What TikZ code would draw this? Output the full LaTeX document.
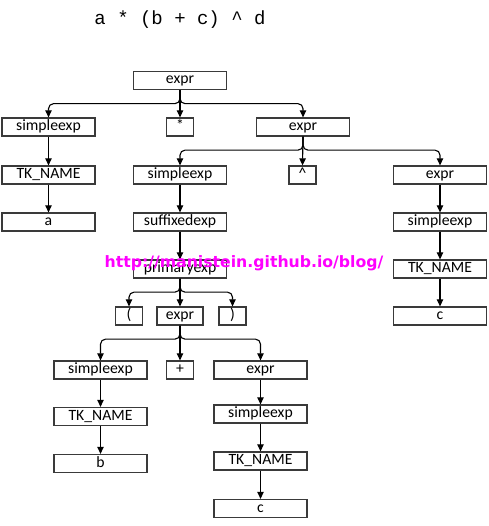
\documentclass[tikz,border=0pt]{standalone}
\usepackage{fontspec}
\setmainfont{Carlito}
\newfontfamily\titlefont{Liberation Mono}
\newfontfamily\markfont{DejaVu Sans}
\usetikzlibrary{arrows.meta,positioning}
\definecolor{fbox}{HTML}{3A3A3A}
\definecolor{fmark}{HTML}{FF00FF}
\tikzset{
  block/.style = {draw=fbox, line width=1.3pt, rectangle, minimum height=18pt,
                  minimum width=93pt, inner sep=0pt, align=center,
                  text height=10.5pt, text depth=3.5pt,
                  font=\fontsize{15.7}{18}\selectfont},
  tok/.style   = {block, minimum width=27pt},
  mid/.style   = {block, minimum width=46pt},
  sig/.style   = {-{Triangle[length=7pt,width=6.5pt]}, line width=1.1pt,
                  rounded corners=5pt},
}
\begin{document}
\begin{tikzpicture}[x=1pt,y=-1pt]
\useasboundingbox (0,0) rectangle (488,526);
\node[font=\titlefont\fontsize{19}{22}\selectfont] (title) at (180,20)
  {a * (b + c) \textasciicircum{} d};
% level by level, pixel positions
\node[block] (root)  at (180,80.5) {expr};
\node[block] (sexpA) at (48.5,127) {simpleexp};
\node[tok]   (star)  at (180,127)  {*};
\node[block] (exprA) at (303,127)  {expr};
\node[block] (nameA) at (48.5,175) {TK\_NAME};
\node[block] (sexpB) at (180,175)  {simpleexp};
\node[tok]   (caret) at (302.5,175) {\textasciicircum};
\node[block] (exprB) at (440,175)  {expr};
\node[block] (a)     at (48.5,222) {a};
\node[block] (sufx)  at (180,222)  {suffixedexp};
\node[block] (sexpC) at (440,222)  {simpleexp};
\node[block] (prim)  at (180,269)  {primaryexp};
\node[block] (nameC) at (440,269)  {TK\_NAME};
\node[tok]   (lpar)  at (129,316)  {(};
\node[mid]   (exprC) at (180,316)  {expr};
\node[tok]   (rpar)  at (232.5,316) {)};
\node[block] (cA)    at (440,316)  {c};
\node[block] (sexpD) at (100.5,370) {simpleexp};
\node[tok]   (plus)  at (180,370)  {+};
\node[block] (exprD) at (260.5,370) {expr};
\node[block] (nameD) at (100.5,416.5) {TK\_NAME};
\node[block] (sexpE) at (260.5,414) {simpleexp};
\node[block] (b)     at (100.5,463.5) {b};
\node[block] (nameE) at (260.5,461) {TK\_NAME};
\node[block] (cB)    at (260.5,508.5) {c};
% branching connectors
\foreach \p/\c in {root/sexpA, root/exprA, exprA/sexpB, exprA/exprB,
                   prim/lpar, prim/rpar, exprC/sexpD, exprC/exprD}
  \draw[sig] (\p.south) -- ++(0,13.5) -| (\c.north);
% straight connectors
\foreach \p/\c in {root/star, exprA/caret, prim/exprC, exprC/plus,
                   sexpA/nameA, nameA/a, sexpB/sufx, sufx/prim,
                   exprB/sexpC, sexpC/nameC, nameC/cA,
                   sexpD/nameD, nameD/b, exprD/sexpE, sexpE/nameE, nameE/cB}
  \draw[sig] (\p.south) -- (\c.north);
\node[text=fmark, font=\markfont\bfseries\fontsize{15.7}{18}\selectfont]
  (mark) at (244,263) {http://manistein.github.io/blog/};
\end{tikzpicture}
\end{document}
